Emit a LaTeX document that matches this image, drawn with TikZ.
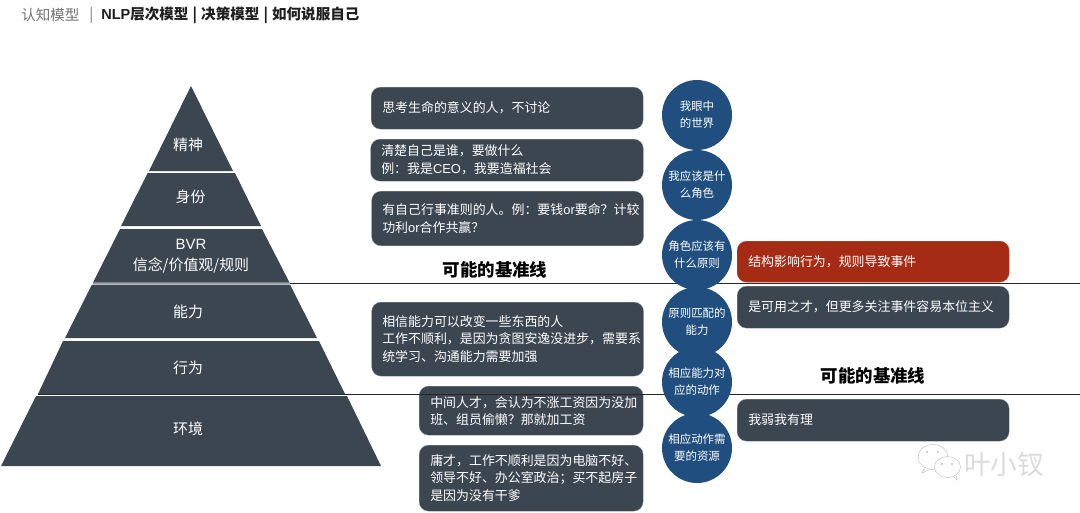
\documentclass[tikz,border=0pt]{standalone}
\usepackage{fontspec}
\setmainfont{Noto Sans CJK SC}
\newfontfamily\latf{Liberation Sans}
\newcommand{\lat}[1]{{\latf #1}}
\definecolor{slate}{HTML}{3B4651}
\definecolor{navy}{HTML}{1F4E7F}
\definecolor{brick}{HTML}{A62B15}
\definecolor{edgegrey}{HTML}{9AA2AA}
\tikzset{
  layer/.style={fill=slate,draw=none},
  layertext/.style={text=white,font=\fontsize{11.2pt}{14pt}\selectfont,align=center,inner sep=0pt},
  note/.style={rounded corners=7pt,fill=slate,draw=edgegrey,line width=0.2pt,text=white,
    font=\fontsize{9.7pt}{13pt}\selectfont,align=left,anchor=north west,inner sep=0pt},
  rednote/.style={note,fill=brick,draw=brick!80!white},
  notetext/.style={anchor=west,text=white,inner sep=0pt,align=left},
  bubble/.style={circle,fill=navy,minimum size=52.5pt,inner sep=0pt,text=white,
    font=\fontsize{8.6pt}{12.8pt}\selectfont,align=center},
  baseline line/.style={black!85,line width=0.7pt},
  baseline label/.style={font=\fontsize{13.1pt}{15pt}\selectfont\bfseries,inner sep=0pt},
  wm/.style={draw=black!22,fill=white,line width=0.4pt},
}
\begin{document}
\begin{tikzpicture}[x=0.75pt,y=-0.75pt]
\useasboundingbox (0,0) rectangle (1080,512);
% title
\node[anchor=west,inner sep=0pt,text=black!55,font=\fontsize{10.9pt}{13pt}\selectfont] (t1) at (21,15) {认知模型};
\node[anchor=west,inner sep=0pt,text=black!55,font=\fontsize{10.9pt}{13pt}\selectfont] (t2) at (89,15) {|};
\node[anchor=west,inner sep=0pt,text=black!88,font=\fontsize{10.9pt}{13pt}\selectfont\bfseries] (t3) at (101,15) {\lat{\bfseries NLP}层次模型\hspace{3.1pt}|\hspace{3.1pt}决策模型\hspace{3.1pt}|\hspace{3.1pt}如何说服自己};
% pyramid
\fill[layer] (191,86) -- (233,171) -- (149,171) -- cycle;
\fill[layer] (147.7,173) -- (235,173) -- (261,226) -- (121,226) -- cycle;
\fill[layer] (120,229) -- (262,229) -- (289.5,282.5) -- (93,282.5) -- cycle;
\fill[layer] (92,284.5) -- (290,284.5) -- (317,338) -- (65,338) -- cycle;
\fill[layer] (63,341) -- (319,341) -- (345,394) -- (38,394) -- cycle;
\fill[layer] (36,396) -- (347,396) -- (381,466) -- (1,466) -- cycle;
\node[layertext] (p1) at (188,144.5) {精神};
\node[layertext] (p2) at (190.5,196.5) {身份};
\node[layertext,font=\fontsize{11.2pt}{15.8pt}\selectfont] (p3) at (191,256.5) {\lat{BVR}\\信念/价值观/规则};
\node[layertext] (p4) at (188,312) {能力};
\node[layertext] (p5) at (188,367.5) {行为};
\node[layertext] (p6) at (188,428.5) {环境};
% text boxes
\node[note,minimum width=204pt,minimum height=31.5pt] (b1) at (371,87) {};
\node[notetext,font=\fontsize{9.7pt}{13pt}\selectfont] (b1t) at (382,108) {思考生命的意义的人，不讨论};
\node[note,minimum width=204.5pt,minimum height=31.5pt] (b2) at (370.5,139) {};
\node[notetext,font=\fontsize{9.7pt}{13.2pt}\selectfont] (b2t) at (381,160) {清楚自己是谁，要做什么\\例：我是\lat{CEO}，我要造福社会};
\node[note,minimum width=204pt,minimum height=41pt] (b3) at (371.5,191) {};
\node[notetext,font=\fontsize{9.7pt}{14pt}\selectfont] (b3t) at (382,218.5) {有自己行事准则的人。例：要钱\lat{or}要命？计较\\功利\lat{or}合作共赢？};
\node[note,minimum width=204pt,minimum height=55.5pt] (b4) at (371.5,302) {};
\node[notetext,font=\fontsize{9.7pt}{13.3pt}\selectfont] (b4t) at (382,339) {相信能力可以改变一些东西的人\\工作不顺利，是因为贪图安逸没进步，需要系\\统学习、沟通能力需要加强};
\node[note,minimum width=168pt,minimum height=36.75pt] (b5) at (419,386) {};
\node[notetext,font=\fontsize{9.7pt}{13.3pt}\selectfont] (b5t) at (430,411) {中间人才，会认为不涨工资因为没加\\班、组员偷懒？那就加工资};
\node[note,minimum width=168pt,minimum height=49.5pt] (b6) at (419,445) {};
\node[notetext,font=\fontsize{9.7pt}{13.3pt}\selectfont] (b6t) at (430,478) {庸才，工作不顺利是因为电脑不好、\\领导不好、办公室政治；买不起房子\\是因为没有干爹};
\node[rednote,minimum width=204pt,minimum height=30.75pt] (r1) at (737,241) {};
\node[notetext,font=\fontsize{9.7pt}{13pt}\selectfont] (r1t) at (748,261.5) {结构影响行为，规则导致事件};
\node[note,minimum width=204pt,minimum height=31.5pt] (r2) at (737,286) {};
\node[notetext,font=\fontsize{9.7pt}{13pt}\selectfont] (r2t) at (748,307) {是可用之才，但更多关注事件容易本位主义};
\node[note,minimum width=204pt,minimum height=31.5pt] (r3) at (737,399) {};
\node[notetext,font=\fontsize{9.7pt}{13pt}\selectfont] (r3t) at (748,420) {我弱我有理};
% baselines
\coordinate (l1a) at (93,283.5); \coordinate (l1m) at (290,283.5); \coordinate (l1b) at (1080,283.5);
\coordinate (l2a) at (38,394.5); \coordinate (l2b) at (1080,394.5);
\draw[black!40,line width=0.5pt] (l1a) -- (l1m);
\draw[baseline line] (l1m) -- (l1b);
\draw[baseline line] (l2a) -- (l2b);
\node[baseline label] (k1) at (495,270) {可能的基准线};
\node[baseline label] (k2) at (873,376) {可能的基准线};
% circles
\node[bubble] (c1) at (697,115) {我眼中\\的世界};
\node[bubble] (c2) at (697,185) {我应该是什\\么角色};
\node[bubble] (c3) at (697,255) {角色应该有\\什么原则};
\node[bubble] (c4) at (697,322) {原则匹配的\\能力};
\node[bubble] (c5) at (697,382) {相应能力对\\应的动作};
\node[bubble] (c6) at (697,448) {相应动作需\\要的资源};
% watermark
\draw[wm] (925,467) -- (922,473) -- (931,469) -- cycle;
\draw[wm] (933,457) ellipse [x radius=15,y radius=12.5];
\fill[black!25] (927,452) circle (1.2) (938,452) circle (1.2);
\draw[wm] (950,473) -- (957,480) -- (956,472) -- cycle;
\draw[wm] (947.5,467) ellipse [x radius=13,y radius=10.5];
\fill[black!25] (942,464) circle (1.2) (952,464) circle (1.2);
\node[inner sep=0pt,text=black!14,font=\fontsize{20pt}{24pt}\selectfont] (wmt) at (1004,464.5) {叶小钗};
\end{tikzpicture}
\end{document}
